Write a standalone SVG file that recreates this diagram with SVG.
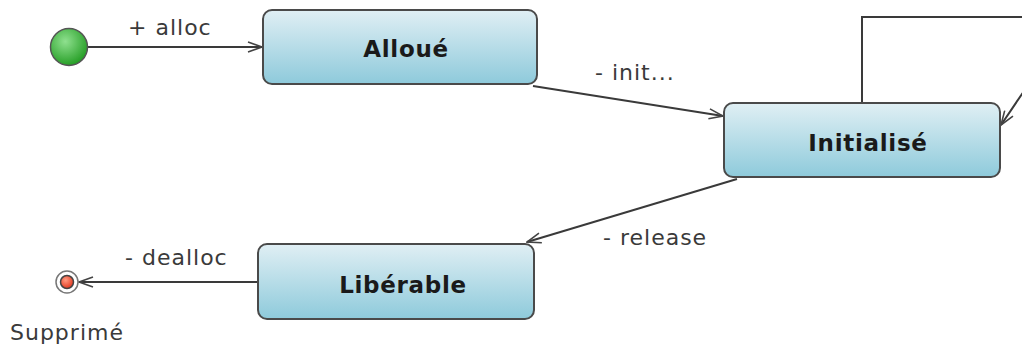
<svg xmlns="http://www.w3.org/2000/svg" width="1022" height="355" viewBox="0 0 1022 355">
  <defs>
    <linearGradient id="stateFill" x1="0" y1="0" x2="0" y2="1">
      <stop offset="0" stop-color="#e0eff4"/>
      <stop offset="1" stop-color="#8ecadb"/>
    </linearGradient>
    <radialGradient id="startFill" cx="0.4" cy="0.35" r="0.7">
      <stop offset="0" stop-color="#8fe08f"/>
      <stop offset="1" stop-color="#1f9a1f"/>
    </radialGradient>
    <radialGradient id="endFill" cx="0.4" cy="0.35" r="0.7">
      <stop offset="0" stop-color="#ff9a80"/>
      <stop offset="1" stop-color="#e0321a"/>
    </radialGradient>
    <marker id="arrow" viewBox="0 0 16 12" refX="15" refY="6" markerWidth="16" markerHeight="12" markerUnits="userSpaceOnUse" orient="auto">
      <path d="M1,1 L15,6 L1,11" fill="none" stroke="#444" stroke-width="1.6"/>
    </marker>
  </defs>
  <style>
    .state rect { fill: url(#stateFill); stroke: #4a4a4a; stroke-width: 2; }
    .state text { font-family: "DejaVu Sans", Verdana, sans-serif; font-weight: bold; font-size: 23px; letter-spacing: 0.7px; fill: #1a1a1a; text-anchor: middle; }
    .edge { fill: none; stroke: #3a3a3a; stroke-width: 2; marker-end: url(#arrow); }
    .lbl { font-family: "DejaVu Sans", Verdana, sans-serif; font-size: 22px; letter-spacing: 1px; fill: #3a3a3a; }
  </style>
  <rect width="1022" height="355" fill="#ffffff"/>

  <g id="connectors">
    <path class="edge" d="M88,47 H262"/>
    <path class="edge" d="M533,86 L723,116"/>
    <path class="edge" d="M862,103 V17 H1074 L1001,125"/>
    <path class="edge" d="M737,179 L527,242"/>
    <path class="edge" d="M258,282 H79"/>
    <text class="lbl" x="128" y="35">+ alloc</text>
    <text class="lbl" x="595" y="80">- init...</text>
    <text class="lbl" x="603" y="245">- release</text>
    <text class="lbl" x="125" y="265">- dealloc</text>
  </g>

  <g id="start">
    <circle cx="69" cy="47" r="18.5" fill="url(#startFill)" stroke="#555" stroke-width="1.5"/>
  </g>

  <g id="end">
    <circle cx="67" cy="282" r="11" fill="#ffffff" stroke="#777" stroke-width="1.5"/>
    <circle cx="67" cy="282" r="6.5" fill="url(#endFill)" stroke="#444" stroke-width="1.5"/>
    <text class="lbl" x="10" y="340">Supprimé</text>
  </g>

  <g id="alloue" class="state">
    <rect x="263" y="10" width="274" height="74" rx="9"/>
    <text x="406" y="57">Alloué</text>
  </g>

  <g id="initialise" class="state">
    <rect x="724" y="103" width="276" height="74" rx="9"/>
    <text x="868" y="151">Initialisé</text>
  </g>

  <g id="liberable" class="state">
    <rect x="258" y="244" width="276" height="75" rx="9"/>
    <text x="403" y="293">Libérable</text>
  </g>
</svg>
